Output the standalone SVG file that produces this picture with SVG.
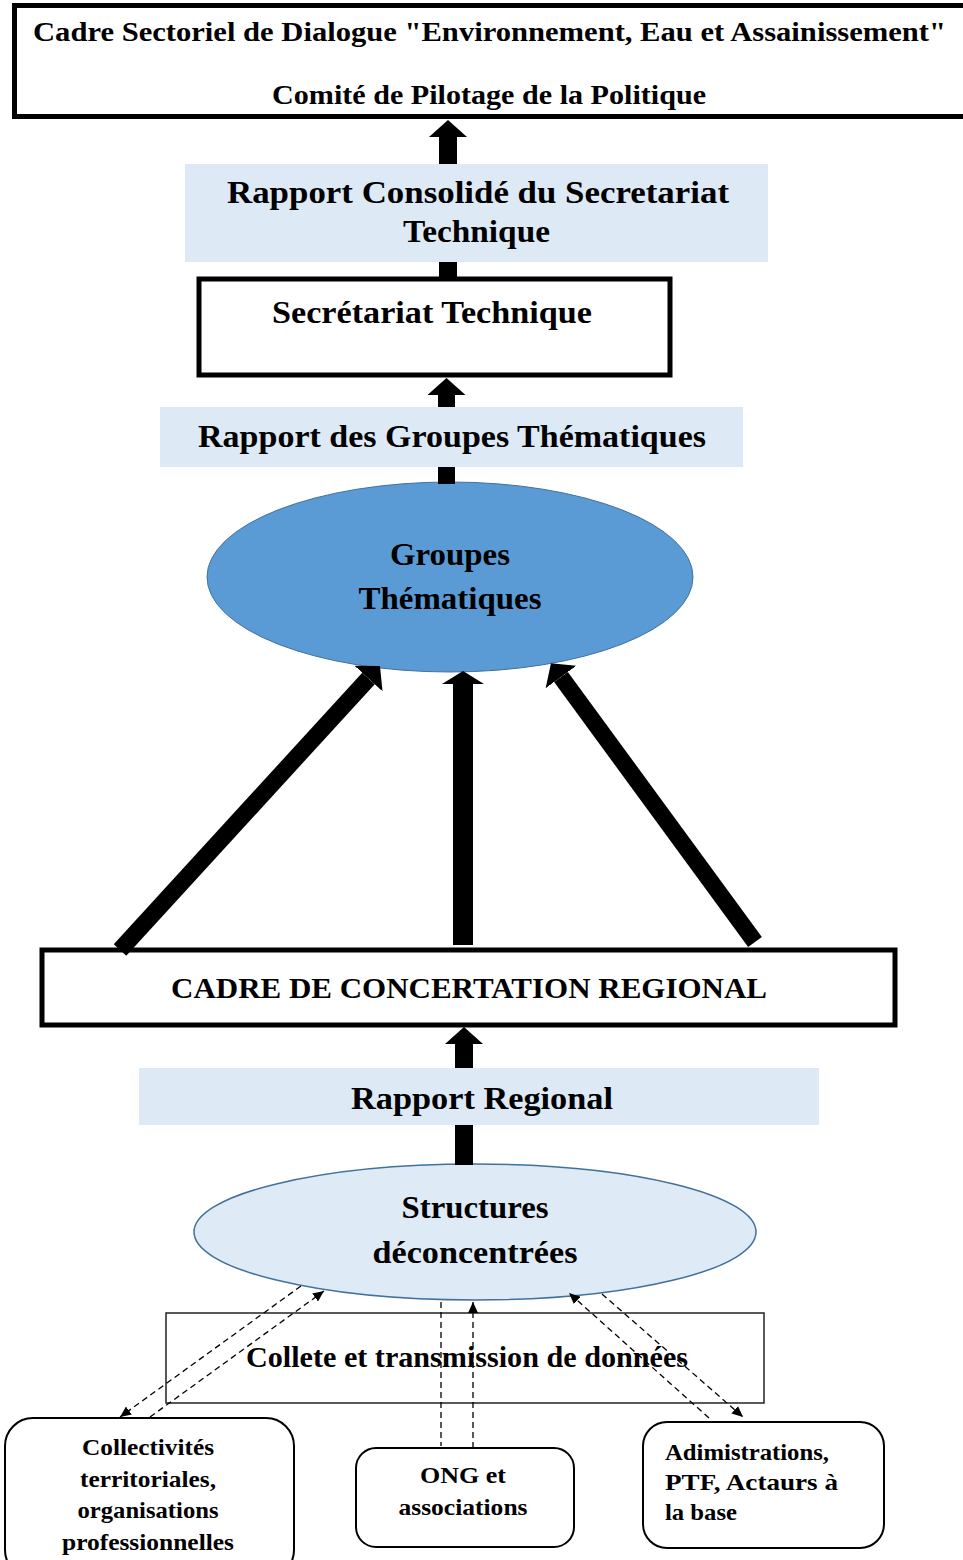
<svg xmlns="http://www.w3.org/2000/svg" width="963" height="1560" viewBox="0 0 963 1560">
<style>
.t{font-family:"Liberation Serif","Times New Roman",serif;font-weight:bold;fill:#000}
.box{fill:#fff;stroke:#000;stroke-width:5}
.lbl{fill:#DDE9F5;stroke:none}
.rb{fill:#fff;stroke:#000;stroke-width:2}
.big{stroke:#000;fill:none}
.dash{stroke:#000;stroke-width:1.3;stroke-dasharray:6 4;fill:none}
</style>
<defs>
<marker id="blk" markerUnits="userSpaceOnUse" markerWidth="17" markerHeight="38" viewBox="0 -19 17 38" refX="0" refY="0" orient="auto"><path d="M0,-19 L17,0 L0,19 Z" fill="#000"/></marker>
<marker id="blk2" markerUnits="userSpaceOnUse" markerWidth="13" markerHeight="42" viewBox="0 -21 13 42" refX="0" refY="0" orient="auto"><path d="M0,-21 L13,0 L0,21 Z" fill="#000"/></marker>
<marker id="sm" markerUnits="userSpaceOnUse" markerWidth="11" markerHeight="10" viewBox="0 -5 11 10" refX="11" refY="0" orient="auto"><path d="M0,-5 L11,0 L0,5 Z" fill="#000"/></marker>
</defs>
<rect width="963" height="1560" fill="#fff"/>

<g id="comite">
<rect class="box" x="14.5" y="5.5" width="960" height="111"/>
<text class="t" x="33" y="41" font-size="28" textLength="913" lengthAdjust="spacingAndGlyphs">Cadre Sectoriel de Dialogue  "Environnement, Eau et Assainissement"</text>
<text class="t" x="272" y="104" font-size="28" textLength="434" lengthAdjust="spacingAndGlyphs">Comité de Pilotage de la Politique</text>
</g>

<g id="secretariat">
<rect class="box" x="199" y="279" width="471" height="96"/>
<text class="t" x="272" y="323" font-size="32" textLength="320" lengthAdjust="spacingAndGlyphs">Secrétariat  Technique</text>
</g>

<g id="groupes">
<ellipse cx="450" cy="577" rx="243" ry="95" fill="#5B9BD5" stroke="#41719C" stroke-width="1"/>
<text class="t" x="450" y="565" font-size="31" text-anchor="middle" textLength="120" lengthAdjust="spacingAndGlyphs">Groupes</text>
<text class="t" x="450" y="609" font-size="31" text-anchor="middle" textLength="183" lengthAdjust="spacingAndGlyphs">Thématiques</text>
</g>

<g id="cadre-regional">
<rect class="box" x="42" y="950" width="853" height="75"/>
<text class="t" x="171" y="998" font-size="29" textLength="596" lengthAdjust="spacingAndGlyphs">CADRE DE CONCERTATION  REGIONAL</text>
</g>

<g id="structures">
<ellipse cx="475" cy="1232" rx="281" ry="68" fill="#DEEBF7" stroke="#41719C" stroke-width="1.5"/>
<text class="t" x="475" y="1218" font-size="31" text-anchor="middle" textLength="147" lengthAdjust="spacingAndGlyphs">Structures</text>
<text class="t" x="475" y="1263" font-size="31" text-anchor="middle" textLength="205" lengthAdjust="spacingAndGlyphs">déconcentrées</text>
</g>

<g id="collete">
<rect x="166" y="1313" width="598" height="90" fill="none" stroke="#222" stroke-width="1.5"/>
<text class="t" x="246" y="1367" font-size="29" textLength="442" lengthAdjust="spacingAndGlyphs">Collete et transmission de données</text>
</g>

<g id="connectors">
<line class="big" x1="448" y1="280" x2="448" y2="137" stroke-width="18" marker-end="url(#blk)"/>
<line class="big" x1="446.5" y1="484" x2="446.5" y2="395" stroke-width="17" marker-end="url(#blk)"/>
<line class="big" x1="120" y1="950" x2="368.5" y2="678.5" stroke-width="17" marker-end="url(#blk)"/>
<line class="big" x1="463" y1="945" x2="463" y2="684" stroke-width="20" marker-end="url(#blk2)"/>
<line class="big" x1="755" y1="942" x2="561" y2="677" stroke-width="17" marker-end="url(#blk)"/>
<line class="big" x1="464" y1="1165" x2="464" y2="1044" stroke-width="18" marker-end="url(#blk)"/>
<line class="dash" x1="301" y1="1286" x2="120" y2="1417" marker-end="url(#sm)"/>
<line class="dash" x1="150" y1="1417" x2="324" y2="1291" marker-end="url(#sm)"/>
<line class="dash" x1="441" y1="1302" x2="441" y2="1446"/>
<line class="dash" x1="473" y1="1448" x2="473" y2="1302" marker-end="url(#sm)"/>
<line class="dash" x1="709" y1="1418" x2="569" y2="1293" marker-end="url(#sm)"/>
<line class="dash" x1="602" y1="1294" x2="743" y2="1417" marker-end="url(#sm)"/>
</g>

<g id="rapport-consolide">
<rect class="lbl" x="185" y="164" width="583" height="98"/>
<text class="t" x="227" y="203" font-size="31" textLength="502" lengthAdjust="spacingAndGlyphs">Rapport   Consolidé  du  Secretariat</text>
<text class="t" x="403" y="242" font-size="31" textLength="147" lengthAdjust="spacingAndGlyphs">Technique</text>
</g>

<g id="rapport-groupes">
<rect class="lbl" x="160" y="407" width="583" height="60"/>
<text class="t" x="198" y="447" font-size="31" textLength="508" lengthAdjust="spacingAndGlyphs">Rapport  des  Groupes  Thématiques</text>
</g>

<g id="rapport-regional">
<rect class="lbl" x="139" y="1068" width="680" height="57"/>
<text class="t" x="351" y="1109" font-size="31" textLength="262" lengthAdjust="spacingAndGlyphs">Rapport  Regional</text>
</g>

<g id="collectivites">
<rect class="rb" x="5" y="1418" width="289" height="160" rx="28" ry="28"/>
<text class="t" x="148" y="1455" font-size="23" text-anchor="middle" textLength="132" lengthAdjust="spacingAndGlyphs">Collectivités</text>
<text class="t" x="148" y="1487" font-size="23" text-anchor="middle" textLength="136" lengthAdjust="spacingAndGlyphs">territoriales,</text>
<text class="t" x="148" y="1518" font-size="23" text-anchor="middle" textLength="141" lengthAdjust="spacingAndGlyphs">organisations</text>
<text class="t" x="148" y="1550" font-size="23" text-anchor="middle" textLength="172" lengthAdjust="spacingAndGlyphs">professionnelles</text>
</g>

<g id="ong">
<rect class="rb" x="356" y="1448" width="218" height="99" rx="20" ry="20"/>
<text class="t" x="463" y="1483" font-size="23" text-anchor="middle" textLength="86" lengthAdjust="spacingAndGlyphs">ONG et</text>
<text class="t" x="463" y="1515" font-size="23" text-anchor="middle" textLength="129" lengthAdjust="spacingAndGlyphs">associations</text>
</g>

<g id="administrations">
<rect class="rb" x="643" y="1422" width="241" height="126" rx="24" ry="24"/>
<text class="t" x="665" y="1460" font-size="23" textLength="164" lengthAdjust="spacingAndGlyphs">Adimistrations,</text>
<text class="t" x="665" y="1490" font-size="23" textLength="173" lengthAdjust="spacingAndGlyphs">PTF,  Actaurs  à</text>
<text class="t" x="665" y="1520" font-size="23" textLength="72" lengthAdjust="spacingAndGlyphs">la base</text>
</g>
</svg>
